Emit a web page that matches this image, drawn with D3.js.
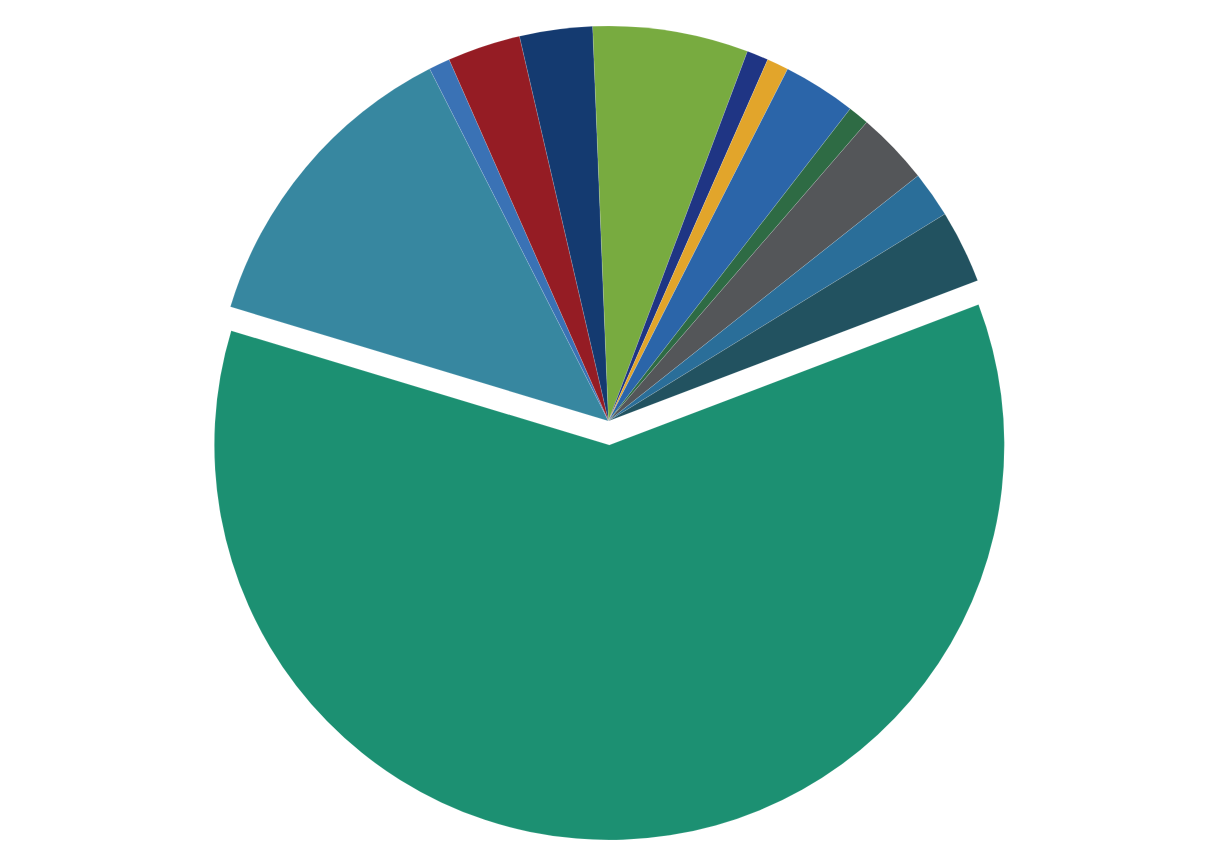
<!DOCTYPE html>
<html>
<head>
<meta charset="utf-8">
<script src="https://cdn.jsdelivr.net/npm/d3@7/dist/d3.min.js"></script>
<style>
  html, body { margin: 0; padding: 0; background: #ffffff; }
  svg { display: block; }
</style>
</head>
<body>
<svg id="chart" width="1216" height="845"></svg>
<script>
// Categories (no labels are shown in the reference)
const categories = ["A", "B", "C", "D", "E", "F", "G", "H", "I", "J", "K", "L", "M"];
// Values (percent share)
const values = [60.45, 12.85, 0.87, 2.99, 2.98, 6.36, 0.88, 0.89, 2.99, 0.86, 2.99, 1.89, 2.99];
const colors = ["#1c9072", "#3787a0", "#3a72b5", "#951c24", "#143a70", "#78ab40",
                "#1f3584", "#e2a52b", "#2b65a9", "#2e6b44", "#545659", "#2a6e99", "#225260"];
const exploded = [true, false, false, false, false, false, false, false, false, false, false, false, false];

const width = 1216, height = 845;
const cx = 608.5, cy = 421, radius = 395, explodeDist = 24;
const startDeg = 69.17;

const data = categories.map((c, i) => ({ category: c, value: values[i], color: colors[i], exploded: exploded[i] }));

const pie = d3.pie()
  .sort(null)
  .value(d => d.value)
  .startAngle(startDeg * Math.PI / 180)
  .endAngle(startDeg * Math.PI / 180 + 2 * Math.PI);

const arc = d3.arc().innerRadius(0).outerRadius(radius);

const svg = d3.select("#chart");
const g = svg.append("g").attr("transform", `translate(${cx},${cy})`);

g.selectAll("path")
  .data(pie(data))
  .join("path")
  .attr("d", arc)
  .attr("fill", d => d.data.color)
  .attr("stroke", "rgba(255,255,255,0.25)")
  .attr("stroke-width", 0.5)
  .attr("transform", d => {
    if (!d.data.exploded) return null;
    const mid = (d.startAngle + d.endAngle) / 2;
    return `translate(${explodeDist * Math.sin(mid)},${-explodeDist * Math.cos(mid)})`;
  });
</script>
</body>
</html>
